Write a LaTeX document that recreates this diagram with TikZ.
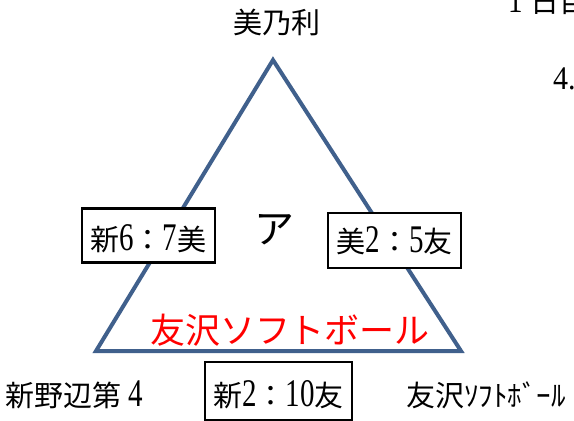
\documentclass[tikz,border=0pt]{standalone}
\usepackage{fontspec}
\setmainfont{Liberation Serif}
\newfontfamily\jp{Noto Sans CJK JP}
\usepackage{graphicx}
\usepackage{tikz}
\newcommand{\dg}[1]{\scalebox{1}[1.35]{#1}}

\begin{document}
\begin{tikzpicture}[x=1pt,y=-1pt,
        teamname/.style={anchor=base,inner sep=0pt,font=\fontsize{29}{31}\selectfont\jp},
        scorebox/.style={draw=black,line width=2.5pt,fill=white,inner sep=0pt,minimum width=133pt,minimum height=54pt,
            font=\fontsize{29}{31}\selectfont,text height=30pt,text depth=0pt},
        tri/.style={draw={rgb,255:red,64;green,96;blue,140},line width=4pt,line join=miter}]
        \useasboundingbox (0,0) rectangle (574,421);
        \clip (0,0) rectangle (574,421);
        % triangle of the league
        \coordinate (apex) at (273,60);
        \coordinate (left) at (96,351);
        \coordinate (right) at (461,351);
        \draw[tri] (apex) -- (left) -- (right) -- cycle;
        % team names
        \node[teamname] (mino) at (277,33) {美乃利};
        \node[teamname] (shin) at (78,406) {新野辺第\makebox[1em]{\rmfamily\dg{4}}};
        \node[teamname] (tomo) at (486,406) {友沢ｿﾌﾄﾎﾞｰﾙ};
        \node[teamname,font=\fontsize{40}{42}\selectfont\jp] (group) at (274,243) {ア};
        \node[teamname,font=\fontsize{35}{37}\selectfont\jp,text=red] (winner) at (290,343) {友沢ソフトボール};
        % scores
        \node[scorebox] (sm) at (148.5,235.5) {{\jp 新}\dg{6}{\jp ：}\dg{7}{\jp 美}};
        \node[scorebox,minimum height=55pt,text height=24pt] (mt) at (394.5,240.5) {{\jp 美}\dg{2}{\jp ：}\dg{5}{\jp 友}};
        \node[scorebox,minimum width=147pt,minimum height=58pt] (st) at (278.5,391) {{\jp 新}\dg{2}{\jp ：}\dg{10}{\jp 友}};
        % text of the page beside
        \node[anchor=base west,inner sep=0pt,font=\fontsize{29}{31}\selectfont] (day) at (501,12) {\makebox[1em]{\dg{1}}{\jp 日目}};
        \node[anchor=base west,inner sep=0pt,font=\fontsize{30}{32}\selectfont] (num) at (553,89) {\scalebox{1}[1.1]{4.}};
    \end{tikzpicture}
\end{document}
